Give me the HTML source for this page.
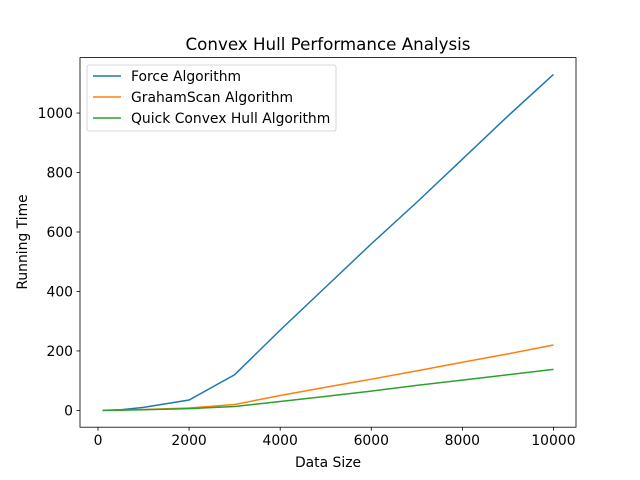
<!DOCTYPE html>
<html><head><meta charset="utf-8"><style>body{margin:0;background:#fff}svg{display:block}text{font-family:"DejaVu Sans","Liberation Sans",sans-serif}</style></head>
<body>
<svg id="chart" width="640" height="480" xmlns="http://www.w3.org/2000/svg"></svg>
<script>
const xValues=[100,500,1000,2000,3000,4000,5000,6000,7000,8000,9000,10000];
const forceValues=[0,2,10,35,120,270,415,560,700,845,990,1130];
const grahamValues=[0,1,3,8,20,50,78,105,133,162,190,220];
const quickValues=[0,1,2,6,13,30,47,65,84,102,120,138];
const xTicks=[0,2000,4000,6000,8000,10000];
const yTicks=[0,200,400,600,800,1000];
const seriesNames=["Force Algorithm","GrahamScan Algorithm","Quick Convex Hull Algorithm"];
const colors=["#1f77b4","#ff7f0e","#2ca02c"];
const L=80,R=576,T=57.6,B=427.2;
const xmin=-395,xmax=10495,ymin=-56.5,ymax=1186.5;
const sx=v=>L+(v-xmin)/(xmax-xmin)*(R-L);
const sy=v=>B-(v-ymin)/(ymax-ymin)*(B-T);
const svg=document.getElementById('chart');
const NS="http://www.w3.org/2000/svg";
function mk(t,a,txt){const e=document.createElementNS(NS,t);for(const k in a)e.setAttribute(k,a[k]);if(txt!=null)e.textContent=txt;svg.appendChild(e);return e;}
[forceValues,grahamValues,quickValues].forEach((s,i)=>{
 const p=mk('polyline',{points:s.map((v,j)=>sx(xValues[j])+','+sy(v)).join(' '),fill:'none',stroke:colors[i],'stroke-width':1.5});
 
 
});
const frame=mk('rect',{x:L,y:T,width:R-L,height:B-T,fill:'none',stroke:'#000','stroke-width':0.8});


xTicks.forEach(v=>{const x=sx(v);mk('line',{x1:x,x2:x,y1:B,y2:B+3.5,stroke:'#000','stroke-width':0.8});
 const t=mk('text',{x:x,y:B+18,'font-size':13.9,'text-anchor':'middle'},v);
 
 });
yTicks.forEach(v=>{const y=sy(v);mk('line',{x1:L-3.5,x2:L,y1:y,y2:y,stroke:'#000','stroke-width':0.8});
 const t=mk('text',{x:L-7,y:y+5,'font-size':13.9,'text-anchor':'end'},v);
 
 });
const ti=mk('text',{x:328,y:50,'font-size':16.7,'text-anchor':'middle'},'Convex Hull Performance Analysis');


const xl=mk('text',{x:328,y:467,'font-size':13.9,'text-anchor':'middle'},'Data Size');


const yl=mk('text',{x:27,y:242,'font-size':13.9,'text-anchor':'middle',transform:'rotate(-90 27 242)'},'Running Time');


const lg=mk('rect',{x:87,y:65,width:249,height:66,rx:2,fill:'#fff',stroke:'#ccc','stroke-width':0.8,'fill-opacity':0.8});


seriesNames.forEach((n,i)=>{const y=76+i*21;
 mk('line',{x1:93,x2:121,y1:y,y2:y,stroke:colors[i],'stroke-width':1.5});
 const t=mk('text',{x:131,y:y+5,'font-size':13.9},n);
 
 });
</script>
</body></html>
